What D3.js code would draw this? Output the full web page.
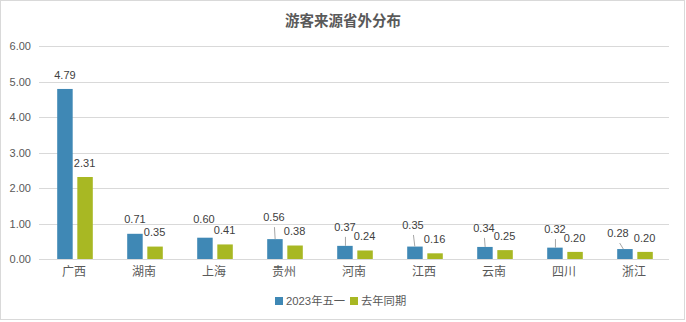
<!DOCTYPE html>
<html>
<head>
<meta charset="utf-8">
<script src="https://cdn.jsdelivr.net/npm/d3@7/dist/d3.min.js"></script>
<style>
  html, body { margin: 0; padding: 0; background: #fff; }
  svg { display: block; }
</style>
</head>
<body>
<svg id="chart" width="686" height="322"></svg>
<script>
// ---- data ----
const title = "游客来源省外分布";
const categories = ["广西", "湖南", "上海", "贵州", "河南", "江西", "云南", "四川", "浙江"];
const seriesNames = ["2023年五一", "去年同期"];
const valuesThisYear = [4.79, 0.71, 0.60, 0.56, 0.37, 0.35, 0.34, 0.32, 0.28];
const valuesLastYear = [2.31, 0.35, 0.41, 0.38, 0.24, 0.16, 0.25, 0.20, 0.20];
const yTicks = [0, 1, 2, 3, 4, 5, 6];

// ---- label layout (Excel moved some labels to avoid overlaps) ----
const liftThisYear = [14, 15, 18.7, 22, 19, 21.6, 19, 18.6, 16];
const shiftThisYear = [0, 0, -1, -1, 0, -2, -1, 0, -7];
const leaderThisYear = [false, false, false, true, true, true, true, true, true];
const liftLastYear = 14;

const colors = ["#3F88B5", "#A8B823"];
const textColor = "#595959";
const labelColor = "#404040";

const svg = d3.select("#chart");

// border
svg.append("rect")
  .attr("x", 0.5).attr("y", 0.5).attr("width", 684).attr("height", 319)
  .attr("fill", "#fff").attr("stroke", "#d9d9d9");

// title
svg.append("text")
  .attr("x", 343).attr("y", 19)
  .attr("text-anchor", "middle").attr("dominant-baseline", "central")
  .attr("font-family", "'Noto Sans CJK SC', sans-serif")
  .attr("font-size", 14.5).attr("font-weight", "bold")
  .attr("fill", textColor)
  .text(title);

const plotLeft = 39, plotRight = 669;
const x0 = d3.scaleBand().domain(categories).range([40, 670]).padding(0);
const x1 = d3.scaleBand().domain(seriesNames).range([17.2, 52.8]).paddingInner(0.23).paddingOuter(0);
const y = d3.scaleLinear().domain([0, 6]).range([259, 46]);

// gridlines
svg.append("g").selectAll("line").data(yTicks).join("line")
  .attr("x1", plotLeft).attr("x2", plotRight)
  .attr("y1", d => Math.round(y(d)) + 0.5).attr("y2", d => Math.round(y(d)) + 0.5)
  .attr("stroke", "#d9d9d9").attr("stroke-width", 1);

// y axis labels
const yAxis = d3.axisLeft(y).tickValues(yTicks).tickFormat(d3.format(".2f")).tickSize(0).tickPadding(0);
const yg = svg.append("g").attr("transform", "translate(31,0)").call(yAxis);
yg.select(".domain").remove();
yg.selectAll("text")
  .attr("font-family", "'Liberation Sans', Arial, sans-serif")
  .attr("font-size", 11).attr("fill", textColor);

// x axis labels
const xAxis = d3.axisBottom(x0).tickSize(0).tickPadding(0);
const xg = svg.append("g").attr("transform", "translate(-1,267)").call(xAxis);
xg.select(".domain").remove();
xg.selectAll("text")
  .attr("font-family", "'Noto Sans CJK SC', sans-serif")
  .attr("font-size", 12).attr("fill", textColor);

const rows = categories.map((c, i) => ({ c, i, v: [valuesThisYear[i], valuesLastYear[i]] }));

const g = svg.append("g");
seriesNames.forEach((s, si) => {
  g.append("g").selectAll("rect").data(rows).join("rect")
    .attr("x", d => x0(d.c) + x1(s))
    .attr("y", d => y(d.v[si]))
    .attr("width", x1.bandwidth())
    .attr("height", d => y(0) - y(d.v[si]))
    .attr("fill", colors[si]);
});

// leader lines
g.append("g").selectAll("line").data(rows.filter(d => leaderThisYear[d.i])).join("line")
  .attr("x1", d => {
    const left = x0(d.c) + x1(seriesNames[0]);
    const lx = left + x1.bandwidth() / 2 + shiftThisYear[d.i];
    return Math.max(left + 2, lx) + 0.5;
  })
  .attr("y1", d => y(d.v[0]) - liftThisYear[d.i] + 10)
  .attr("x2", d => {
    const left = x0(d.c) + x1(seriesNames[0]);
    return Math.max(left + 2, left + x1.bandwidth() / 2 + shiftThisYear[d.i] * 0.3) + 0.5;
  })
  .attr("y2", d => y(d.v[0]))
  .attr("stroke", "#a6a6a6").attr("stroke-width", 1);

// data labels
const fmt = d3.format(".2f");
g.append("g").selectAll("text").data(rows).join("text")
  .attr("x", d => x0(d.c) + x1(seriesNames[0]) + x1.bandwidth() / 2 + shiftThisYear[d.i])
  .attr("y", d => y(d.v[0]) - liftThisYear[d.i])
  .attr("dy", "0.35em")
  .attr("text-anchor", "middle")
  .attr("font-family", "'Liberation Sans', Arial, sans-serif")
  .attr("font-size", 11).attr("fill", labelColor)
  .text(d => fmt(d.v[0]));

g.append("g").selectAll("text").data(rows).join("text")
  .attr("x", d => x0(d.c) + x1(seriesNames[1]) + x1.bandwidth() / 2 - 0.5)
  .attr("y", d => y(d.v[1]) - liftLastYear)
  .attr("dy", "0.35em")
  .attr("text-anchor", "middle")
  .attr("font-family", "'Liberation Sans', Arial, sans-serif")
  .attr("font-size", 11).attr("fill", labelColor)
  .text(d => fmt(d.v[1]));

// legend
const legend = svg.append("g");
const legendItems = [{ x: 275, tx: 286 }, { x: 350, tx: 361 }];
seriesNames.forEach((s, si) => {
  legend.append("rect")
    .attr("x", legendItems[si].x).attr("y", 297).attr("width", 8).attr("height", 8)
    .attr("fill", colors[si]);
  legend.append("text")
    .attr("x", legendItems[si].tx).attr("y", 301).attr("dy", "0.35em")
    .attr("font-family", "'Liberation Sans', 'Noto Sans CJK SC', sans-serif")
    .attr("font-size", 11.3).attr("fill", textColor)
    .text(s);
});
</script>
</body>
</html>
